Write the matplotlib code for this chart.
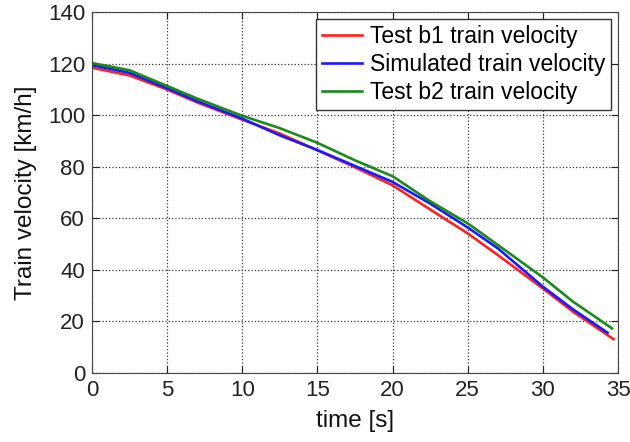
import matplotlib
matplotlib.use('Agg')
import matplotlib.pyplot as plt

plt.rcParams['font.family'] = ['Liberation Sans', 'DejaVu Sans']

# Werte
t_b1 = [0, 2.5, 5, 7, 10, 12.5, 15, 17.5, 20, 22.5, 25, 27, 30, 32, 34.7]
v_b1 = [118.5, 115.5, 110, 105, 98.3, 92.9, 86.4, 79.8, 72.8, 63.4, 54.1, 45.7, 32.7, 23.7, 13.0]

t_sim = [0, 2.5, 5, 7, 10, 12.5, 15, 17.5, 20, 22.5, 25, 27, 30, 32, 34.3]
v_sim = [119.5, 116.5, 110.5, 105.5, 98.7, 92.2, 86.5, 80.3, 74.1, 65.7, 56.4, 48.3, 33.4, 24.6, 15.5]

t_b2 = [0, 2.5, 5, 7, 10, 12.5, 15, 17.5, 20, 22.5, 25, 27, 30, 32, 34.6]
v_b2 = [120.3, 117.5, 111.4, 106.5, 99.8, 95.0, 89.3, 82.5, 76.3, 66.6, 58.0, 49.6, 37.0, 27.6, 17.2]

fig = plt.figure(figsize=(6.3, 4.42), dpi=100)
ax = fig.add_axes([0.146, 0.157, 0.835, 0.815])

ax.plot(t_b1, v_b1, color='#ff2020', lw=1.9, label='Test b1 train velocity')
ax.plot(t_sim, v_sim, color='#1a1aff', lw=1.9, label='Simulated train velocity')
ax.plot(t_b2, v_b2, color='#1a8a1a', lw=1.9, label='Test b2 train velocity')

ax.set_xlim(0, 35)
ax.set_ylim(0, 140)
ax.set_xticks(range(0, 36, 5))
ax.set_yticks(range(0, 141, 20))
ax.grid(True, linestyle=':', color='#333333', linewidth=0.9)
ax.tick_params(direction='in', top=True, right=True, labelsize=16, colors='#222222', length=5, pad=5)
for s in ax.spines.values():
    s.set_color('#444444')

ax.set_xlabel('time [s]', fontsize=17.5, color='#111111', labelpad=7)
ax.set_ylabel('Train velocity [km/h]', fontsize=17.5, color='#111111', labelpad=8)

leg = ax.legend(loc='upper right', fontsize=16.5, fancybox=False, framealpha=1,
                edgecolor='#333333', handlelength=1.75, borderpad=0.25,
                labelspacing=0.22, handletextpad=0.35, borderaxespad=0.3)

plt.savefig('out.png')
